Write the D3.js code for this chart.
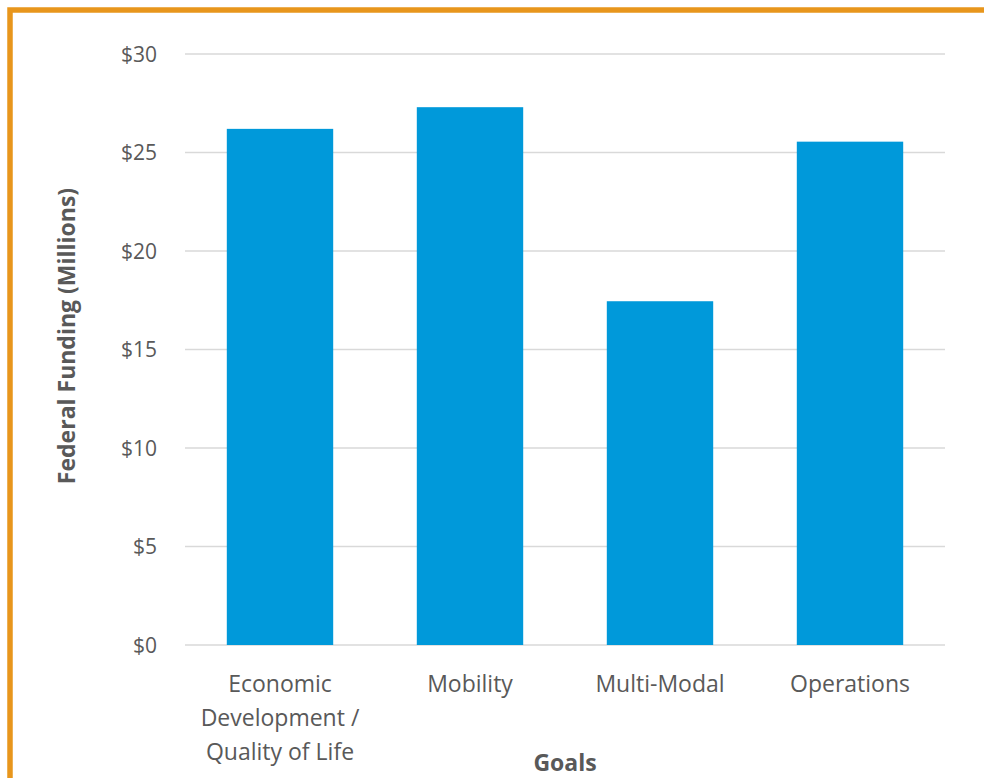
<!DOCTYPE html>
<html>
<head>
<meta charset="utf-8">
<script src="https://cdn.jsdelivr.net/npm/d3@7"></script>
<style>
  body { margin: 0; background: #fff; }
  svg { display: block; font-family: "Open Sans", "Noto Sans", sans-serif; }
</style>
</head>
<body>
<div id="chart"></div>
<script>
// Chart data
const goals = [
  ["Economic", "Development /", "Quality of Life"],
  ["Mobility"],
  ["Multi-Modal"],
  ["Operations"]
];
const goalKeys = ["Economic Development / Quality of Life", "Mobility", "Multi-Modal", "Operations"];
const funding = [26.2, 27.3, 17.45, 25.55];
const yTicks = [0, 5, 10, 15, 20, 25, 30];

const W = 984, H = 778;
const plot = { left: 185, right: 945, top: 54, bottom: 645 };

const svg = d3.select("#chart").append("svg")
  .attr("width", W)
  .attr("height", H);

// Orange frame (top and left edges visible)
svg.append("path")
  .attr("d", `M10,${H + 10} L10,10 L${W + 10},10`)
  .attr("fill", "none")
  .attr("stroke", "#E8961C")
  .attr("stroke-width", 5.5);

const x = d3.scaleBand()
  .domain(goalKeys)
  .range([plot.left, plot.right])
  .paddingInner(0.44)
  .paddingOuter(0.22);

const y = d3.scaleLinear().domain([0, 30]).range([plot.bottom, plot.top]);

// Grid lines
svg.append("g")
  .selectAll("line")
  .data(yTicks)
  .enter()
  .append("line")
  .attr("x1", plot.left)
  .attr("x2", plot.right)
  .attr("y1", (d) => y(d))
  .attr("y2", (d) => y(d))
  .attr("stroke", "#d9d9d9")
  .attr("stroke-width", 1.5);

// Y tick labels
svg.append("g")
  .selectAll("text")
  .data(yTicks)
  .enter()
  .append("text")
  .attr("x", 157)
  .attr("y", (d) => y(d))
  .attr("dy", "0.36em")
  .attr("text-anchor", "end")
  .attr("fill", "#595959")
  .style("font-size", "21px")
  .text((d) => "$" + d);

// Bars
svg.append("g")
  .selectAll("rect")
  .data(funding)
  .enter()
  .append("rect")
  .attr("x", (d, i) => x(goalKeys[i]))
  .attr("y", (d) => y(d))
  .attr("width", x.bandwidth())
  .attr("height", (d) => y(0) - y(d))
  .attr("fill", "#0099DA");

// X category labels
const xl = svg.append("g")
  .selectAll("text")
  .data(goals)
  .enter()
  .append("text")
  .attr("text-anchor", "middle")
  .attr("fill", "#595959")
  .style("font-size", "23px")
  .attr("transform", (d, i) => `translate(${x(goalKeys[i]) + x.bandwidth() / 2}, 692)`);

xl.selectAll("tspan")
  .data((d) => d)
  .enter()
  .append("tspan")
  .attr("x", 0)
  .attr("y", (d, i) => i * 34)
  .text((d) => d);

// Axis titles
svg.append("text")
  .attr("x", (plot.left + plot.right) / 2)
  .attr("y", 771)
  .attr("text-anchor", "middle")
  .attr("fill", "#595959")
  .style("font-size", "23px")
  .style("font-weight", "bold")
  .text("Goals");

svg.append("text")
  .attr("transform", `translate(75, 336) rotate(-90)`)
  .attr("text-anchor", "middle")
  .attr("fill", "#595959")
  .style("font-size", "23px")
  .style("font-weight", "bold")
  .text("Federal Funding (Millions)");
</script>
</body>
</html>
